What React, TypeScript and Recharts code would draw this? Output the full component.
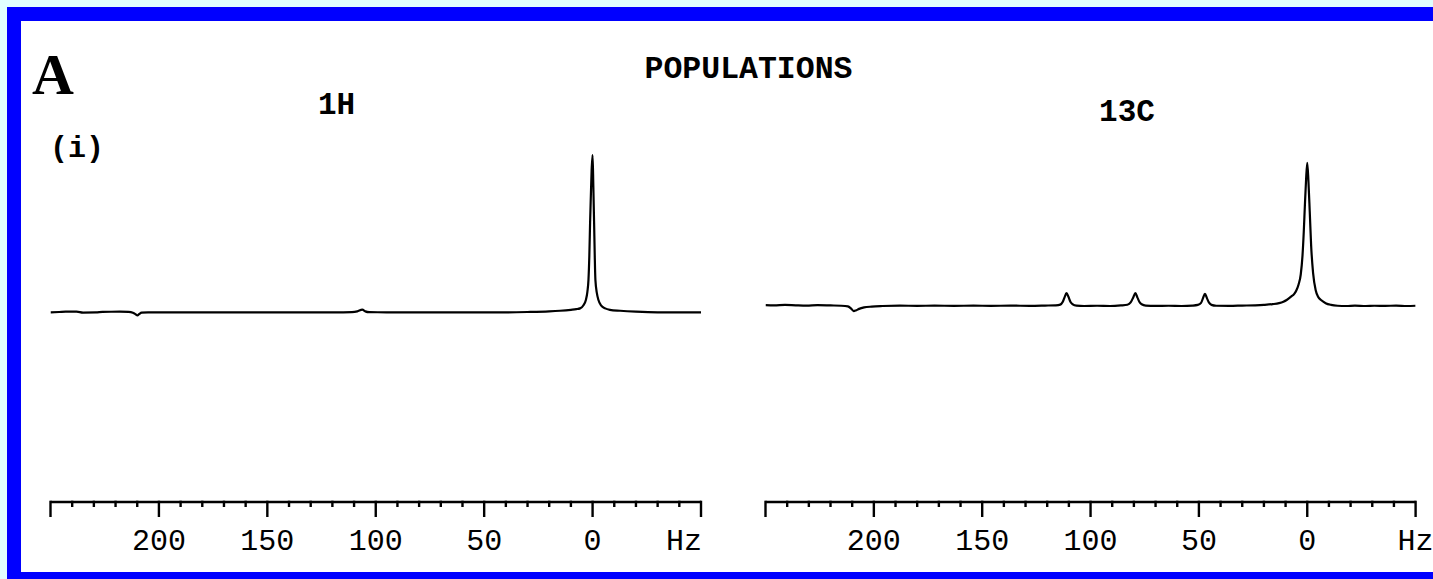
import { LineChart, Line, XAxis, YAxis } from 'recharts';

// x axis runs from 250 Hz (left) to -50 Hz (right), minor ticks every 10 Hz
const HZ_TICKS = [250, 240, 230, 220, 210, 200, 190, 180, 170, 160, 150, 140, 130, 120, 110, 100, 90, 80, 70, 60, 50, 40, 30, 20, 10, 0, -10, -20, -30, -40, -50];
const MAJOR_TICKS = [250, 200, 150, 100, 50, 0, -50];
const LABEL_TICKS = [200, 150, 100, 50, 0, -50];
const LABEL_TEXT = ['200', '150', '100', '50', '0', 'Hz'];

// [Hz, intensity] (main peak = 100)
const protonSpectrum: [number, number][] = [
  [250, 0], [246, 0.2], [243, 0.4], [238, 0.4], [235, -0.2], [229, -0.1], [226, 0.3], [218, 0.4],
  [214, 0.3], [212, -0.3], [210.8, -1.2], [209.9, -2], [209, -1], [208, -0.2], [205, 0], [190, 0],
  [170, 0], [150, 0], [130, 0], [115, 0], [111, 0.1], [108.5, 0.6], [106.2, 1.7], [104.8, 0.6],
  [103, 0.1], [95, 0], [70, 0], [50, 0], [40, 0], [30, 0.2], [20, 0.6], [15, 1], [10, 1.6],
  [7.5, 2], [5.8, 2.5], [4.2, 4.5], [3.1, 7.8], [2.4, 13], [1.9, 20.6], [1.5, 36], [1.15, 57],
  [0.8, 74], [0.45, 90], [0, 100], [-0.35, 80], [-0.7, 57], [-1, 36], [-1.3, 20.6], [-2, 12],
  [-2.7, 7.8], [-4, 4.2], [-5.8, 2.5], [-8, 1.6], [-12.7, 1], [-20, 0.4], [-30, 0], [-40, 0], [-50, 0],
];

// [Hz, intensity] (main peak = 100)
const carbonSpectrum: [number, number][] = [
  [250, 0.6], [246, 0.4], [241, 0.8], [236, 0.5], [231, 0.3], [226, 0.6], [220, 0.4], [215, 0.2],
  [212, -0.3], [210.5, -1.8], [209.3, -3.5], [208.3, -3.1], [206.8, -2], [204.5, -1], [201, -0.4],
  [196, 0], [188, 0.3], [180, 0.1], [172, 0.3], [163, 0.1], [154, 0.3], [146, 0.1], [137, 0.3],
  [128, 0.1], [121, 0.3], [116, 0.5], [114, 1], [112.8, 3], [112, 6], [111.1, 9], [110.2, 6.5],
  [109.3, 3], [108.2, 1.2], [106.5, 0.3], [103, 0], [97, 0.2], [91, 0], [86, 0.4], [83, 0.9],
  [81.5, 2.5], [80.3, 6], [79.3, 9], [78.4, 6], [77.5, 3], [76.4, 1.2], [74.5, 0.3], [70, 0.1],
  [64, 0.2], [58, 0], [53, 0.3], [50.5, 0.8], [49, 2.2], [48.1, 5.5], [47.2, 8.5], [46.3, 5.5],
  [45.4, 2.5], [44.2, 0.8], [42, 0.2], [36, 0.1], [30, 0.3], [24, 0.5], [20, 0.8], [16, 1.3],
  [13, 2], [11, 3], [9.5, 4.2], [7.5, 6.5], [6, 8.5], [5, 11], [4, 15], [3, 22], [2.2, 35],
  [1.6, 52], [1.1, 70], [0.55, 88], [0, 100], [-0.55, 87], [-1.15, 66], [-1.8, 42], [-2.7, 23],
  [-3.9, 11], [-5, 6.5], [-6.5, 4], [-8.5, 2], [-11, 0.8], [-14, 0.2], [-18, 0], [-22, 0.3],
  [-27, 0], [-31, 0.2], [-36, 0.1], [-41, 0.3], [-46, 0], [-50, 0.2],
];

const MONO = '"Liberation Mono", "DejaVu Sans Mono", monospace';

const makeTick = (hzShift: number) => (props: any) => {
  const { x, y, payload } = props;
  const v = payload.value;
  const major = MAJOR_TICKS.includes(v);
  const idx = LABEL_TICKS.indexOf(v);
  return (
    <g>
      <line x1={x} x2={x} y1={y - 1.3} y2={y + (major ? 15 : 5)} stroke="#000" strokeWidth={2.4} />
      {idx >= 0 && (
        <text
          x={v === -50 ? x + hzShift : x}
          y={y + 48}
          textAnchor="middle"
          fontFamily={MONO}
          fontSize={30}
          fill="#000"
        >
          {LABEL_TEXT[idx]}
        </text>
      )}
    </g>
  );
};

interface SpectrumProps {
  points: [number, number][];
  left: number;
  width: number;
  marginLeft: number;
  marginRight: number;
  yDomain: [number, number];
  hzShift: number;
}

const Spectrum = ({ points, left, width, marginLeft, marginRight, yDomain, hzShift }: SpectrumProps) => {
  const data = points.map(([hz, v]) => ({ hz, v }));
  return (
    <div style={{ position: 'absolute', left, top: 0 }}>
      <LineChart
        width={width}
        height={579}
        data={data}
        margin={{ top: 150, right: marginRight, bottom: 17, left: marginLeft }}
      >
        <XAxis
          dataKey="hz"
          type="number"
          domain={[-50, 250]}
          reversed
          allowDataOverflow
          ticks={HZ_TICKS}
          interval={0}
          height={60}
          tickSize={0}
          tickMargin={0}
          tickLine={false}
          axisLine={{ stroke: '#000', strokeWidth: 2.6 }}
          tick={makeTick(hzShift)}
        />
        <YAxis hide type="number" domain={yDomain} allowDataOverflow />
        <Line
          type="monotone"
          dataKey="v"
          stroke="#000"
          strokeWidth={2.2}
          dot={false}
          isAnimationActive={false}
        />
      </LineChart>
    </div>
  );
};

export default function App() {
  return (
    <div
      style={{
        position: 'absolute',
        left: 0,
        top: 0,
        width: 1433,
        height: 579,
        overflow: 'hidden',
        background: '#E0FFFF',
      }}
    >
      <div
        style={{
          position: 'absolute',
          left: 7,
          top: 7,
          width: 1500,
          height: 579,
          boxSizing: 'border-box',
          border: '14px solid #0000FF',
          background: '#fff',
        }}
      />
      <Spectrum
        points={protonSpectrum}
        left={0}
        width={740}
        marginLeft={50.5}
        marginRight={39}
        yDomain={[-120.6, 103.2]}
        hzShift={-17}
      />
      <Spectrum
        points={carbonSpectrum}
        left={740}
        width={693}
        marginLeft={25.5}
        marginRight={17.4}
        yDomain={[-136.8, 108.9]}
        hzShift={0}
      />
      <svg
        width={1433}
        height={579}
        style={{ position: 'absolute', left: 0, top: 0, pointerEvents: 'none' }}
      >
        <text x={32} y={94} fontFamily='"Liberation Serif", serif' fontWeight="bold" fontSize={58} fill="#000">
          A
        </text>
        <text x={748.5} y={78} textAnchor="middle" fontFamily={MONO} fontWeight="bold" fontSize={31.5} fill="#000">
          POPULATIONS
        </text>
        <text x={336.5} y={114} textAnchor="middle" fontFamily={MONO} fontWeight="bold" fontSize={31} fill="#000">
          1H
        </text>
        <text x={1127} y={121} textAnchor="middle" fontFamily={MONO} fontWeight="bold" fontSize={31} fill="#000">
          13C
        </text>
        <text x={50} y={157} fontFamily={MONO} fontWeight="bold" fontSize={30} fill="#000">
          (i)
        </text>
      </svg>
    </div>
  );
}
